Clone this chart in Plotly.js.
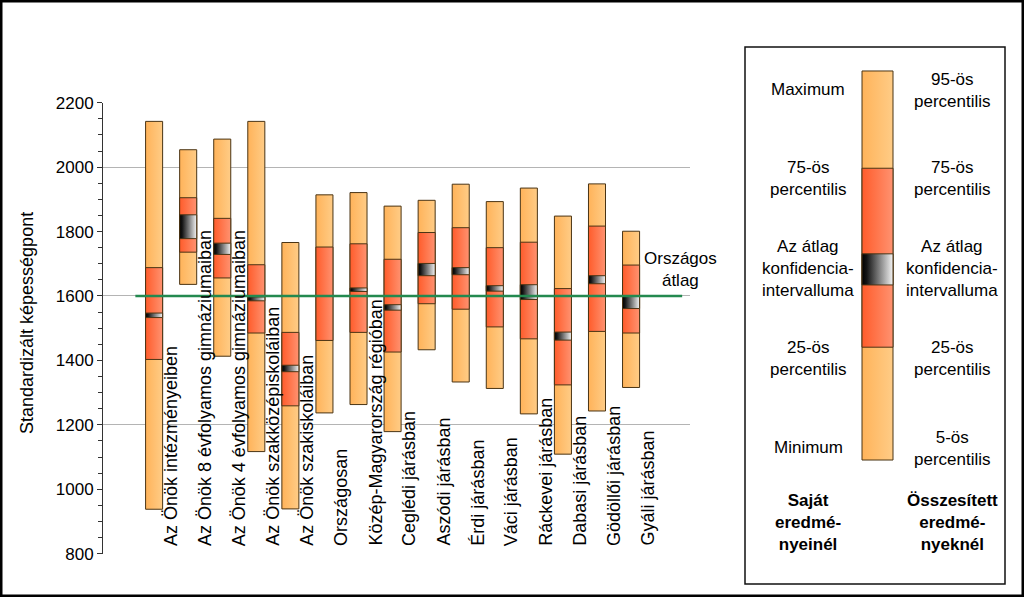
<!DOCTYPE html>
<html>
<head>
<meta charset="utf-8">
<script src="https://cdn.plot.ly/plotly-3.0.1.min.js"></script>
<style>html,body{margin:0;padding:0;background:#fff;}#chart{width:1024px;height:597px;}</style>
</head>
<body>
<div id="chart"></div>
<script>
// ---- data ----
const categories = [
  "Az Önök intézményeiben",
  "Az Önök 8 évfolyamos gimnáziumaiban",
  "Az Önök 4 évfolyamos gimnáziumaiban",
  "Az Önök szakközépiskoláiban",
  "Az Önök szakiskoláiban",
  "Országosan",
  "Közép-Magyarország régióban",
  "Ceglédi járásban",
  "Aszódi járásban",
  "Érdi járásban",
  "Váci járásban",
  "Ráckevei járásban",
  "Dabasi járásban",
  "Gödöllői járásban",
  "Gyáli járásban"
];
const maxV   = [2142, 2054, 2087, 2142, 1766, 1914, 1921, 1879, 1897, 1947, 1893, 1935, 1848, 1948, 1801];
const q75    = [1688, 1905, 1841, 1697, 1487, 1752, 1762, 1714, 1797, 1812, 1750, 1767, 1623, 1817, 1696];
const ciHigh = [1547, 1852, 1764, 1597, 1385, 1601, 1625, 1573, 1701, 1688, 1632, 1635, 1488, 1663, 1599];
const ciLow  = [1533, 1778, 1729, 1585, 1365, 1599, 1614, 1556, 1663, 1666, 1615, 1589, 1463, 1638, 1561];
const q25    = [1403, 1736, 1656, 1485, 1259, 1462, 1487, 1426, 1576, 1559, 1504, 1467, 1324, 1490, 1485];
const minV   = [ 938, 1636, 1413, 1117,  939, 1237, 1263, 1179, 1433, 1333, 1313, 1234, 1109, 1243, 1316];
const nationalAverage = 1600;
const nationalLabel = "Országos<br>átlag";
const yTitle = "Standardizált képességpont";

// legend sample box (relative scale 0-100)
const legendLevels = {min: 0, q25: 29, ciLow: 45, ciHigh: 53, q75: 75, max: 100};
const legendLeft = [
  ["Maximum", 90], ["75-ös<br>percentilis", 178.5], ["Az átlag<br>konfidencia-<br>intervalluma", 268.5],
  ["25-ös<br>percentilis", 358], ["Minimum", 447], ["<b>Saját<br>eredmé-<br>nyeinél</b>", 522]
];
const legendRight = [
  ["95-ös<br>percentilis", 90.5], ["75-ös<br>percentilis", 178.5], ["Az átlag<br>konfidencia-<br>intervalluma", 268.5],
  ["25-ös<br>percentilis", 358.5], ["5-ös<br>percentilis", 448], ["<b>Összesített<br>eredmé-<br>nyeknél</b>", 522]
];

// ---- styles ----
const W = 1024, H = 597;
const FONT = "Liberation Sans, Arial, sans-serif";
const edge = "#4a3414";
const lightScale = [[0, "#FFB35A"], [1, "#FFCC86"]];
const redScale = [[0, "#FF5C2B"], [1, "#FF9270"]];
const ciScale = [[0, "#000000"], [0.15, "#141414"], [1, "#F4F4F4"]];
const halfW = 0.25;

function box(cx, lo, hi, hw, scale, xa, ya) {
  return {
    type: "scatter", mode: "lines",
    x: [cx - hw, cx + hw, cx + hw, cx - hw, cx - hw],
    y: [lo, lo, hi, hi, lo],
    fill: "toself",
    fillgradient: {type: "horizontal", colorscale: scale},
    line: {color: edge, width: 1},
    hoverinfo: "skip", showlegend: false,
    xaxis: xa, yaxis: ya
  };
}

const traces = [];
categories.forEach((c, i) => traces.push(box(i, minV[i], maxV[i], halfW, lightScale, "x", "y")));
categories.forEach((c, i) => traces.push(box(i, q25[i], q75[i], halfW, redScale, "x", "y")));
categories.forEach((c, i) => traces.push(box(i, ciLow[i], ciHigh[i], halfW, ciScale, "x", "y")));

// national average line (on overlay axis so it sits above the bars)
traces.push({
  type: "scatter", mode: "lines",
  x: [-0.55, categories.length + 0.5],
  y: [nationalAverage, nationalAverage],
  line: {color: "#23894F", width: 2.5},
  hoverinfo: "skip", showlegend: false, xaxis: "x", yaxis: "y2"
});

// legend sample bar
traces.push(box(0, legendLevels.min, legendLevels.max, 0.5, lightScale, "x3", "y3"));
traces.push(box(0, legendLevels.q25, legendLevels.q75, 0.5, redScale, "x3", "y3"));
traces.push(box(0, legendLevels.ciLow, legendLevels.ciHigh, 0.5, ciScale, "x3", "y3"));

// ---- annotations ----
const annotations = [];
categories.forEach((c, i) => annotations.push({
  text: c, x: i + 0.5, y: 818, xref: "x", yref: "y",
  textangle: -90, xanchor: "center", yanchor: "bottom",
  showarrow: false, font: {family: FONT, size: 18, color: "#000"}
}));
annotations.push({
  text: nationalLabel, x: 15.44, y: 1683, xref: "x", yref: "y",
  xanchor: "center", yanchor: "middle", align: "center",
  showarrow: false, font: {family: FONT, size: 17, color: "#000"}
});
annotations.push({
  text: yTitle, x: 27 / W, y: 1 - 323 / H, xref: "paper", yref: "paper",
  textangle: -90, xanchor: "center", yanchor: "middle",
  showarrow: false, font: {family: FONT, size: 18, color: "#000"}
});
legendLeft.forEach(([t, py]) => annotations.push({
  text: t, x: 808 / W, y: 1 - py / H, xref: "paper", yref: "paper",
  xanchor: "center", yanchor: "middle", align: "center",
  showarrow: false, font: {family: FONT, size: 17, color: "#000"}
}));
legendRight.forEach(([t, py]) => annotations.push({
  text: t, x: 952 / W, y: 1 - py / H, xref: "paper", yref: "paper",
  xanchor: "center", yanchor: "middle", align: "center",
  showarrow: false, font: {family: FONT, size: 17, color: "#000"}
}));

const layout = {
  width: W, height: H,
  margin: {l: 0, r: 0, t: 0, b: 0, pad: 0},
  paper_bgcolor: "#fff", plot_bgcolor: "rgba(0,0,0,0)",
  font: {family: FONT, size: 17, color: "#000"},
  showlegend: false,
  xaxis: {
    domain: [103 / W, 690 / W], range: [-1.5, 15.73],
    visible: false, fixedrange: true
  },
  yaxis: {
    domain: [43.3 / H, 494.3 / H], range: [800, 2200],
    tick0: 800, dtick: 200, ticks: "outside", ticklen: 5, tickcolor: "#333",
    showline: true, linecolor: "#333", linewidth: 1,
    showgrid: false, zeroline: false,
    tickfont: {family: FONT, size: 17, color: "#000"},
    minor: {dtick: 50, ticks: "outside", ticklen: 4, tickcolor: "#333", showgrid: false},
    fixedrange: true
  },
  yaxis2: {
    overlaying: "y", anchor: "x", range: [800, 2200],
    tick0: 800, dtick: 400, showgrid: true, gridcolor: "#b4b4b4", gridwidth: 1,
    showticklabels: false, ticks: "", showline: false, zeroline: false, fixedrange: true
  },
  xaxis3: {
    domain: [(877.5 - 18.6) / W, (877.5 + 18.6) / W], range: [-0.6, 0.6],
    anchor: "y3", visible: false, fixedrange: true
  },
  yaxis3: {
    domain: [1 - 471.7 / H, 1 - 59.3 / H], range: [-3, 103],
    anchor: "x3", visible: false, fixedrange: true
  },
  annotations: annotations,
  shapes: [
    {type: "rect", xref: "paper", yref: "paper",
     x0: 745 / W, x1: 1005 / W, y0: 1 - 584 / H, y1: 1 - 47 / H,
     line: {color: "#111", width: 1.5}, fillcolor: "rgba(0,0,0,0)"},
    {type: "rect", xref: "paper", yref: "paper",
     x0: 0, x1: 1, y0: 0, y1: 1,
     line: {color: "#000", width: 5}, fillcolor: "rgba(0,0,0,0)"}
  ]
};

Plotly.newPlot("chart", traces, layout, {staticPlot: true, displayModeBar: false});
</script>
</body>
</html>
